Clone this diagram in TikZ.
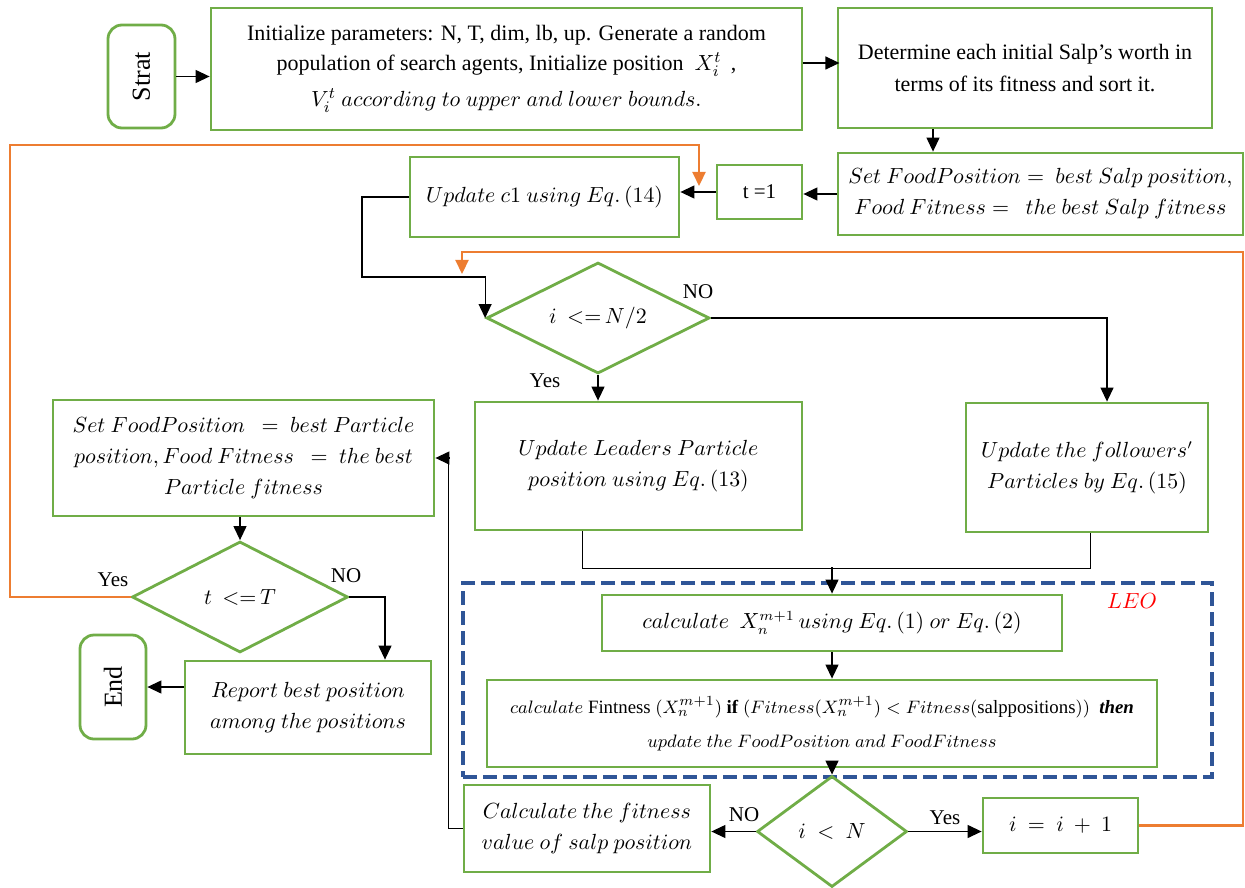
\documentclass[tikz,border=0pt]{standalone}
\usepackage{fontspec}
\setmainfont{Liberation Serif}
\usepackage{amsmath}
\usetikzlibrary{shapes.geometric,arrows.meta,calc}

\definecolor{boxgreen}{HTML}{70AD47}
\definecolor{looporange}{HTML}{ED7D31}
\definecolor{leoblue}{HTML}{2F5597}

\begin{document}
\begin{tikzpicture}[x=0.5pt,y=-0.5pt,
  font=\fontsize{10.5}{15.5}\selectfont,
  box/.style={draw=boxgreen,line width=1.4pt,align=center,inner sep=2pt},
  term/.style={box,rounded corners=7pt},
  cond/.style={diamond,draw=boxgreen,line width=1.4pt,inner sep=0pt,aspect=2},
  arr/.style={-{Triangle[length=7pt,width=6.5pt]},line width=0.6pt},
  oarr/.style={-{Triangle[length=7pt,width=6.5pt]},draw=looporange,line width=1.1pt},
  lbl/.style={inner sep=1pt}]
  \useasboundingbox (0,0) rectangle (1245,887);

  % top row
  \node[term,minimum width=33.5pt,minimum height=51.5pt] (strat) at (141.5,76.5) {\rotatebox{90}{\fontsize{13}{15}\selectfont Strat}};
  \node[box,minimum width=295.5pt,minimum height=61pt,font=\fontsize{11}{15}\selectfont] (init) at (506.5,69)
    {Initialize parameters: N, T, dim, lb, up. Generate a random\\
     population of search agents, Initialize position \ $X_i^t$\, ,\\[3pt]
     $V_i^t\ according\ to\ upper\ and\ lower\ bounds.$};
  \node[box,minimum width=187pt,minimum height=60pt,font=\fontsize{11}{16}\selectfont] (determine) at (1025,68)
    {Determine each initial Salp's worth in\\ terms of its fitness and sort it.};
  \node[box,minimum width=202.5pt,minimum height=41pt] (setfood) at (1040.5,194)
    {$Set\ FoodPosition =\ best\ Salp\ position,$\\ $Food\ Fitness =\ \ the\ best\ Salp\ fitness$};
  \node[box,minimum width=42.5pt,minimum height=27pt] (tone) at (759.5,192) {t =1};
  \node[box,minimum width=134.5pt,minimum height=40pt] (updc) at (544.5,197) {$Update\ c1\ using\ Eq.\,(14)$};

  % leaders / followers
  \node[cond,minimum width=111.5pt,minimum height=55.5pt] (dleader) at (598,318) {$i\ \ {<}{=}\,N/2$};
  \node[box,minimum width=163.5pt,minimum height=64pt] (leaders) at (638.5,466)
    {$Update\ Leaders\ Particle$\\ $position\ using\ Eq.\,(13)$};
  \node[box,minimum width=121pt,minimum height=64.5pt] (followers) at (1087,467.5)
    {$Update\ the\ followers'$\\ $Particles\ by\ Eq.\,(15)$};

  % LEO block
  \node[draw=leoblue,line width=2pt,dash pattern=on 7pt off 3pt,minimum width=374.5pt,minimum height=97pt] (leo) at (837.5,680) {};
  \node[lbl,text=red] (leolbl) at (1132,601) {$LEO$};
  \node[box,minimum width=230pt,minimum height=28pt] (calcx) at (832,623)
    {$calculate\ \ X_n^{m+1}\,using\ Eq.\,(1)\ or\ Eq.\,(2)$};
  \node[box,minimum width=335pt,minimum height=43.5pt,font=\fontsize{9.4}{15}\selectfont] (calcfit) at (822,723.5)
    {$calculate$ Fintness $(X_n^{m+1})$ \textbf{if} $(Fitness(X_n^{m+1}) < Fitness($salppositions$))$ \ \textbf{\itshape then}\\[2pt]
     $update\ the\ FoodPosition\ and\ FoodFitness$};

  % bottom row
  \node[cond,aspect=1.3,minimum width=75pt,minimum height=55.5pt] (dless) at (832,831.5) {$i\ <\ N$};
  \node[box,minimum width=123pt,minimum height=43.5pt] (calcval) at (587,828.5)
    {$Calculate\ the\ fitness$\\ $value\ of\ salp\ position$};
  \node[box,minimum width=77.5pt,minimum height=27.5pt] (incr) at (1060.5,825.5) {$i\ =\ i\ +\ 1$};

  % left column
  \node[box,minimum width=190.5pt,minimum height=58pt] (setpart) at (243.5,458)
    {$Set\ FoodPosition\ \ =\ best\ Particle$\\ $position, Food\ Fitness\ \ =\ the\ best$\\ $Particle\ fitness$};
  \node[cond,minimum width=108pt,minimum height=55.5pt] (dT) at (240,597) {$t\ \ {<}{=}\,T$};
  \node[box,minimum width=123pt,minimum height=46.5pt] (report) at (308,707.5)
    {$Report\ best\ position$\\ $among\ the\ positions$};
  \node[term,minimum width=33pt,minimum height=52pt] (endn) at (113,687) {\rotatebox{90}{\fontsize{13}{15}\selectfont End}};

  % branch labels
  \foreach \x/\y/\t [count=\k] in {698/292/NO,545/381/Yes,346/576/NO,113/580/Yes,744/815/NO,945/818/Yes}
    \node[lbl] (br\k) at (\x,\y) {\t};

  % bend points
  \coordinate (jc) at (362,277);
  \coordinate (mg) at (832,567);
  \coordinate (oA) at (1243,252);
  \coordinate (oB) at (462,252);
  \coordinate (oC) at (462,274);
  \coordinate (oD) at (10,145);
  \coordinate (oE) at (699,145);
  \coordinate (oF) at (699,186);

  % connectors
  \draw[arr] (strat.east) -- (strat.east -| init.west);
  \draw[arr] ($(init.east)+(0,-6)$) -- ($(init.east)+(36,-6)$);
  \draw[arr] ($(determine.south)+(-92,0)$) -- ($(setfood.north)+(-107.5,0)$);
  \draw[arr] (setfood.west) -- (setfood.west -| tone.east);
  \draw[arr] (tone.west) -- (tone.west -| updc.east);
  \draw[arr] (updc.west) -| (jc) -| (dleader.west);
  \draw[arr] (dleader.south) -- (dleader.south |- leaders.north);
  \draw[arr] (dleader.east) -| ($(followers.north)+(20,0)$);
  \draw ($(leaders.south)+(-56.5,0)$) -- ++(0,37) -| ($(followers.south)+(3,0)$);
  \draw[arr] (mg) -- (calcx.north);
  \draw[arr] (calcx.south) -- (calcx.south |- calcfit.north);
  \draw[arr] (calcfit.south -| dless.north) -- (dless.north);
  \draw[arr] (dless.east) -- (dless.east -| incr.west);
  \draw[arr] (dless.west) -- (dless.west -| calcval.east);
  \draw[arr] (calcval.west) -- ++(-14,0) |- (setpart.east);
  \draw[arr] (setpart.south -| dT.north) -- (dT.north);
  \draw[arr] (dT.east) -| ($(report.north)+(77,0)$);
  \draw[arr] (endn.east -| report.west) -- (endn.east);

  % loops back
  \draw[oarr] (incr.east) -| (oA) -- (oB) -- (oC);
  \draw[oarr] (dT.west) -| (oD) -- (oE) -- (oF);
\end{tikzpicture}
\end{document}
